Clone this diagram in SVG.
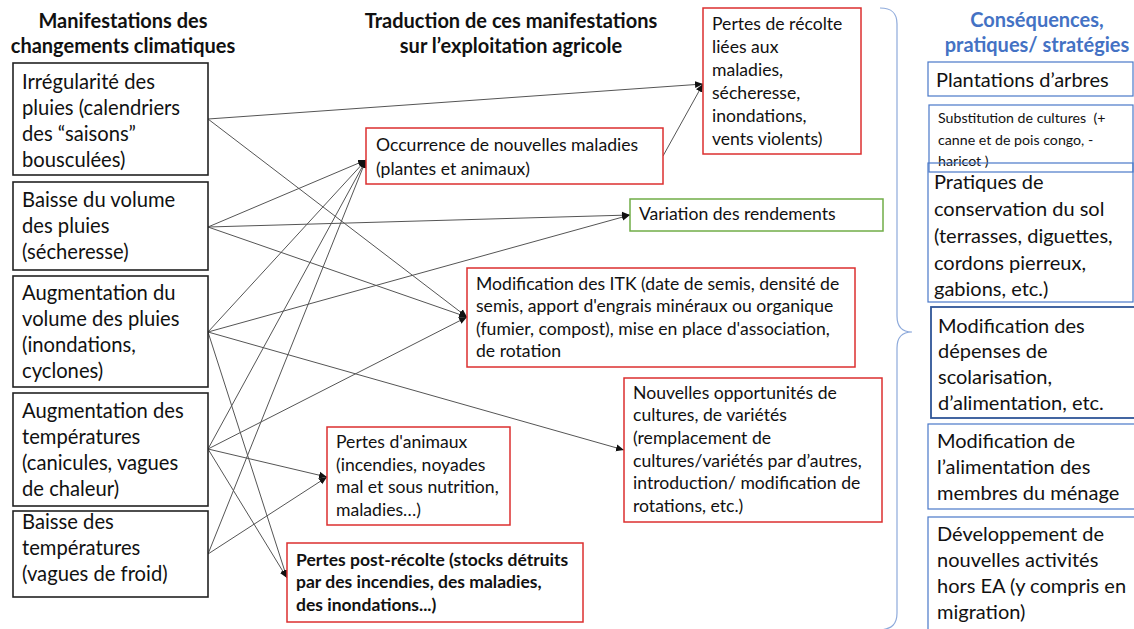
<svg xmlns="http://www.w3.org/2000/svg" width="1134" height="629" viewBox="0 0 1134 629">
<defs>
<marker id="ah" markerUnits="userSpaceOnUse" markerWidth="9" markerHeight="8" refX="8" refY="4" orient="auto">
<path d="M0,0.5 L8,4 L0,7.5 z" fill="#111"/>
</marker>
<style>
.t{font-family:Lato,"Liberation Sans",sans-serif;fill:#111}
.h{font-family:Lato,"Liberation Sans",sans-serif;font-weight:bold;font-size:20px;fill:#111;text-anchor:middle}
.hb{font-family:Lato,"Liberation Sans",sans-serif;font-weight:bold;font-size:20px;fill:#4472c4;text-anchor:middle}
.l{font-size:20.2px}
.m{font-size:17.6px}
.mb{font-size:17.5px;font-weight:bold}
.r{font-size:20px}
.rs{font-size:14.2px}
.bx{fill:#fff;stroke:#222;stroke-width:1.6}
.rd{fill:#fff;stroke:#dc2f2f;stroke-width:1.5}
.gr{fill:#fff;stroke:#70ad47;stroke-width:1.5}
.bl{fill:#fff;stroke:#4a78c8;stroke-width:1.2}
.bd{fill:#fff;stroke:#2f5597;stroke-width:1.8}
.c line{stroke:#555;stroke-width:1;marker-end:url(#ah)}
</style>
</defs>
<rect width="1134" height="629" fill="#fff"/>

<g id="titles">
<text class="h" x="123" y="28">Manifestations des</text>
<text class="h" x="123" y="53">changements climatiques</text>
<text class="h" x="511" y="28">Traduction de ces manifestations</text>
<text class="h" x="511" y="53">sur l’exploitation agricole</text>
<text class="hb" x="1037" y="27">Conséquences,</text>
<text class="hb" x="1037" y="52">pratiques/ stratégies</text>
</g>

<g id="connectors" class="c">
<line x1="208" y1="119" x2="703" y2="84"/>
<line x1="208" y1="119" x2="467" y2="317"/>
<line x1="208" y1="227" x2="366" y2="160"/>
<line x1="208" y1="227" x2="630" y2="215"/>
<line x1="208" y1="227" x2="467" y2="317"/>
<line x1="208" y1="332" x2="366" y2="160"/>
<line x1="208" y1="332" x2="630" y2="215"/>
<line x1="208" y1="332" x2="624" y2="450"/>
<line x1="208" y1="332" x2="287" y2="578"/>
<line x1="208" y1="449" x2="366" y2="160"/>
<line x1="208" y1="449" x2="467" y2="317"/>
<line x1="208" y1="449" x2="327" y2="477"/>
<line x1="208" y1="449" x2="287" y2="578"/>
<line x1="208" y1="554" x2="366" y2="160"/>
<line x1="208" y1="554" x2="327" y2="477"/>
<line x1="663" y1="156" x2="703" y2="84"/>
</g>

<g id="n-irregularite">
<rect class="bx" x="13" y="63" width="195" height="112"/>
<text class="t l" x="22" y="89">Irrégularité des</text>
<text class="t l" x="22" y="115">pluies (calendriers</text>
<text class="t l" x="22" y="141">des “saisons”</text>
<text class="t l" x="22" y="167">bousculées)</text>
</g>
<g id="n-baisse-volume">
<rect class="bx" x="13" y="182" width="195" height="88"/>
<text class="t l" x="22" y="207">Baisse du volume</text>
<text class="t l" x="22" y="233">des pluies</text>
<text class="t l" x="22" y="259">(sécheresse)</text>
</g>
<g id="n-augm-volume">
<rect class="bx" x="13" y="276" width="195" height="111"/>
<text class="t l" x="22" y="300">Augmentation du</text>
<text class="t l" x="22" y="326">volume des pluies</text>
<text class="t l" x="22" y="352">(inondations,</text>
<text class="t l" x="22" y="378">cyclones)</text>
</g>
<g id="n-augm-temp">
<rect class="bx" x="13" y="393" width="195" height="113"/>
<text class="t l" x="22" y="418">Augmentation des</text>
<text class="t l" x="22" y="444">températures</text>
<text class="t l" x="22" y="470">(canicules, vagues</text>
<text class="t l" x="22" y="496">de chaleur)</text>
</g>
<g id="n-baisse-temp">
<rect class="bx" x="13" y="511" width="195" height="86"/>
<text class="t l" x="22" y="529">Baisse des</text>
<text class="t l" x="22" y="555">températures</text>
<text class="t l" x="22" y="581">(vagues de froid)</text>
</g>

<g id="n-pertes-recolte">
<rect class="rd" x="703" y="8" width="158" height="146"/>
<text class="t m" x="712" y="30">Pertes de récolte</text>
<text class="t m" x="712" y="53">liées aux</text>
<text class="t m" x="712" y="76">maladies,</text>
<text class="t m" x="712" y="99">sécheresse,</text>
<text class="t m" x="712" y="122">inondations,</text>
<text class="t m" x="712" y="145">vents violents)</text>
</g>
<g id="n-occurrence">
<rect class="rd" x="366" y="128" width="297" height="56"/>
<text class="t m" x="376" y="151">Occurrence de nouvelles maladies</text>
<text class="t m" x="376" y="175">(plantes et animaux)</text>
</g>
<g id="n-variation">
<rect class="gr" x="630" y="199" width="253" height="32"/>
<text class="t m" x="639" y="220">Variation des rendements</text>
</g>
<g id="n-itk">
<rect class="rd" x="467" y="268" width="388" height="99"/>
<text class="t m" x="476" y="290">Modification des ITK (date de semis, densité de</text>
<text class="t m" x="476" y="312">semis, apport d'engrais minéraux ou organique</text>
<text class="t m" x="476" y="335">(fumier, compost), mise en place d'association,</text>
<text class="t m" x="476" y="357">de rotation</text>
</g>
<g id="n-nouvelles">
<rect class="rd" x="624" y="378" width="258" height="144"/>
<text class="t m" x="633" y="399">Nouvelles opportunités de</text>
<text class="t m" x="633" y="421">cultures, de variétés</text>
<text class="t m" x="633" y="444">(remplacement de</text>
<text class="t m" x="633" y="467">cultures/variétés par d’autres,</text>
<text class="t m" x="633" y="489">introduction/ modification de</text>
<text class="t m" x="633" y="512">rotations, etc.)</text>
</g>
<g id="n-pertes-animaux">
<rect class="rd" x="327" y="427" width="183" height="98"/>
<text class="t m" x="336" y="448">Pertes d'animaux</text>
<text class="t m" x="336" y="471">(incendies, noyades</text>
<text class="t m" x="336" y="493">mal et sous nutrition,</text>
<text class="t m" x="336" y="516">maladies…)</text>
</g>
<g id="n-pertes-post">
<rect class="rd" x="287" y="543" width="296" height="79"/>
<text class="t mb" x="296" y="566">Pertes post-récolte (stocks détruits</text>
<text class="t mb" x="296" y="588">par des incendies, des maladies,</text>
<text class="t mb" x="296" y="611">des inondations...)</text>
</g>

<g id="brace">
<path d="M880,8 C892,8 897,13 897,24 L897,316 C897,326 902,332 912,332 C902,332 897,338 897,348 L897,613 C897,624 892,629 880,630" fill="none" stroke="#8eaadb" stroke-width="1.2"/>
</g>

<g id="n-plantations">
<rect class="bl" x="928" y="62" width="205" height="34"/>
<text class="t r" x="936" y="87">Plantations d’arbres</text>
</g>
<g id="n-substitution">
<rect class="bl" x="929" y="105" width="204" height="67"/>
<text class="t rs" x="938" y="123">Substitution de cultures &#160;(+</text>
<text class="t rs" x="938" y="145">canne et de pois congo, -</text>
<text class="t rs" x="938" y="166">haricot )</text>
</g>
<g id="n-pratiques">
<rect class="bl" x="928" y="163" width="205" height="139" fill-opacity="0"/>
<text class="t r" x="934" y="189">Pratiques de</text>
<text class="t r" x="934" y="216">conservation du sol</text>
<text class="t r" x="934" y="243">(terrasses, diguettes,</text>
<text class="t r" x="934" y="270">cordons pierreux,</text>
<text class="t r" x="934" y="296">gabions, etc.)</text>
</g>
<g id="n-depenses">
<rect class="bd" x="931" y="307" width="204" height="111"/>
<text class="t r" x="938" y="333">Modification des</text>
<text class="t r" x="938" y="358">dépenses de</text>
<text class="t r" x="938" y="384">scolarisation,</text>
<text class="t r" x="938" y="410">d’alimentation, etc.</text>
</g>
<g id="n-alimentation">
<rect class="bl" x="928" y="424" width="207" height="85"/>
<text class="t r" x="937" y="448">Modification de</text>
<text class="t r" x="937" y="474">l’alimentation des</text>
<text class="t r" x="937" y="500">membres du ménage</text>
</g>
<g id="n-developpement">
<rect class="bl" x="928" y="517" width="207" height="120"/>
<text class="t r" x="937" y="541">Développement de</text>
<text class="t r" x="937" y="567">nouvelles activités</text>
<text class="t r" x="937" y="593">hors EA (y compris en</text>
<text class="t r" x="937" y="619">migration)</text>
</g>
</svg>
